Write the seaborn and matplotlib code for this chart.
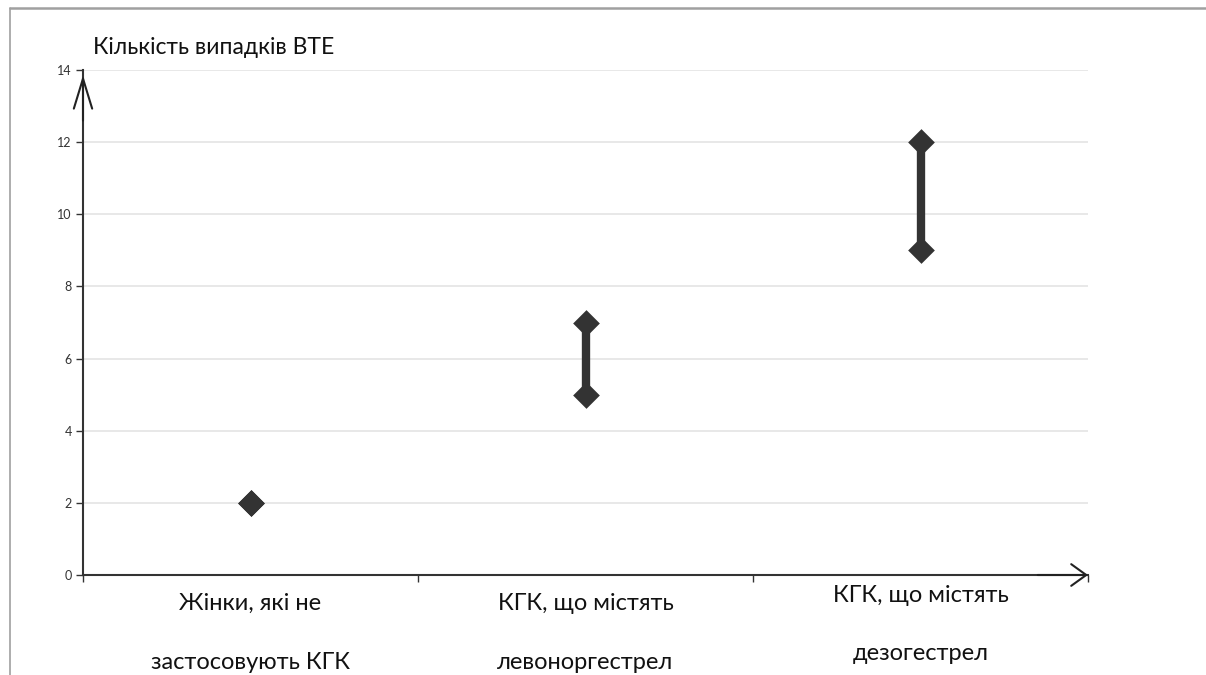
import matplotlib
matplotlib.use("Agg")
import matplotlib.pyplot as plt
from matplotlib.lines import Line2D
import seaborn as sns
import pandas as pd

categories = ["Жінки, які не\nзастосовують КГК",
              "КГК, що містять\nлевоноргестрел",
              "КГК, що містять\nдезогестрел"]
low = [2, 5, 9]
high = [2, 7, 12]
yticks = [0, 2, 4, 6, 8, 10, 12, 14]
ylabel = "Кількість випадків ВТЕ"

sns.set_theme(style="white")
plt.rcParams["font.family"] = ["Lato", "DejaVu Sans"]

df = pd.DataFrame({
    "cat": list(range(len(categories))) * 2,
    "value": low + high,
})

fig = plt.figure(figsize=(12.06, 6.75), dpi=100)
ax = fig.add_axes([83 / 1206, 1 - 575 / 675, (1088 - 83) / 1206, (575 - 70) / 675])

color = "#333333"
for y in yticks[1:]:
    ax.axhline(y, color="#e6e6e6", lw=1.3, zorder=0)

sns.lineplot(data=df, x="cat", y="value", units="cat", estimator=None,
             color=color, lw=6, ax=ax, legend=False)
sns.scatterplot(data=df, x="cat", y="value", marker="D", s=185, color=color,
                edgecolor=color, linewidth=0, ax=ax, legend=False, zorder=5)

ax.set_xlim(-0.5, len(categories) - 0.5)
ax.set_ylim(0, 14)
ax.set_yticks(yticks)
ax.set_yticklabels([str(v) for v in yticks], fontsize=9, color="#333333")
ax.set_xticks([-0.5, 0.5, 1.5, 2.5])
ax.set_xticklabels([])
ax.tick_params(axis="y", left=True, length=5, width=1, color="#333333", pad=3)
ax.tick_params(axis="x", bottom=True, length=5, width=1, color="#333333")
ax.set_xlabel("")
ax.set_ylabel("")

for side in ["top", "right"]:
    ax.spines[side].set_visible(False)
for side in ["left", "bottom"]:
    ax.spines[side].set_color("#333333")
    ax.spines[side].set_linewidth(1.5)

# arrow heads on axes
ax.annotate("", xy=(0, 0.99), xycoords="axes fraction", xytext=(0, 0.9),
            arrowprops=dict(arrowstyle="->,head_length=1.8,head_width=0.55",
                            lw=1.5, color="#222222", shrinkA=0, shrinkB=0))
ax.annotate("", xy=(1.0, 0), xycoords="axes fraction", xytext=(0.95, 0),
            arrowprops=dict(arrowstyle="->,head_length=0.9,head_width=0.65",
                            lw=1.5, color="#222222", shrinkA=0, shrinkB=0))

label_y = [-0.036, -0.036, -0.02]
for i, lab in enumerate(categories):
    ax.text(i, label_y[i], lab, transform=ax.get_xaxis_transform(),
            ha="center", va="top", fontsize=17, linespacing=3.2, color="#111111")

fig.text(93 / 1206, 1 - 47 / 675, ylabel, ha="left", va="center",
         fontsize=16.5, color="#111111")

# frame lines
fig.add_artist(Line2D([10 / 1206, 1], [1 - 8 / 675, 1 - 8 / 675],
                      transform=fig.transFigure, color="#a0a0a0", lw=1.8))
fig.add_artist(Line2D([10 / 1206, 10 / 1206], [0, 1 - 8 / 675],
                      transform=fig.transFigure, color="#a0a0a0", lw=1.2))

fig.savefig("out.png", dpi=100)
